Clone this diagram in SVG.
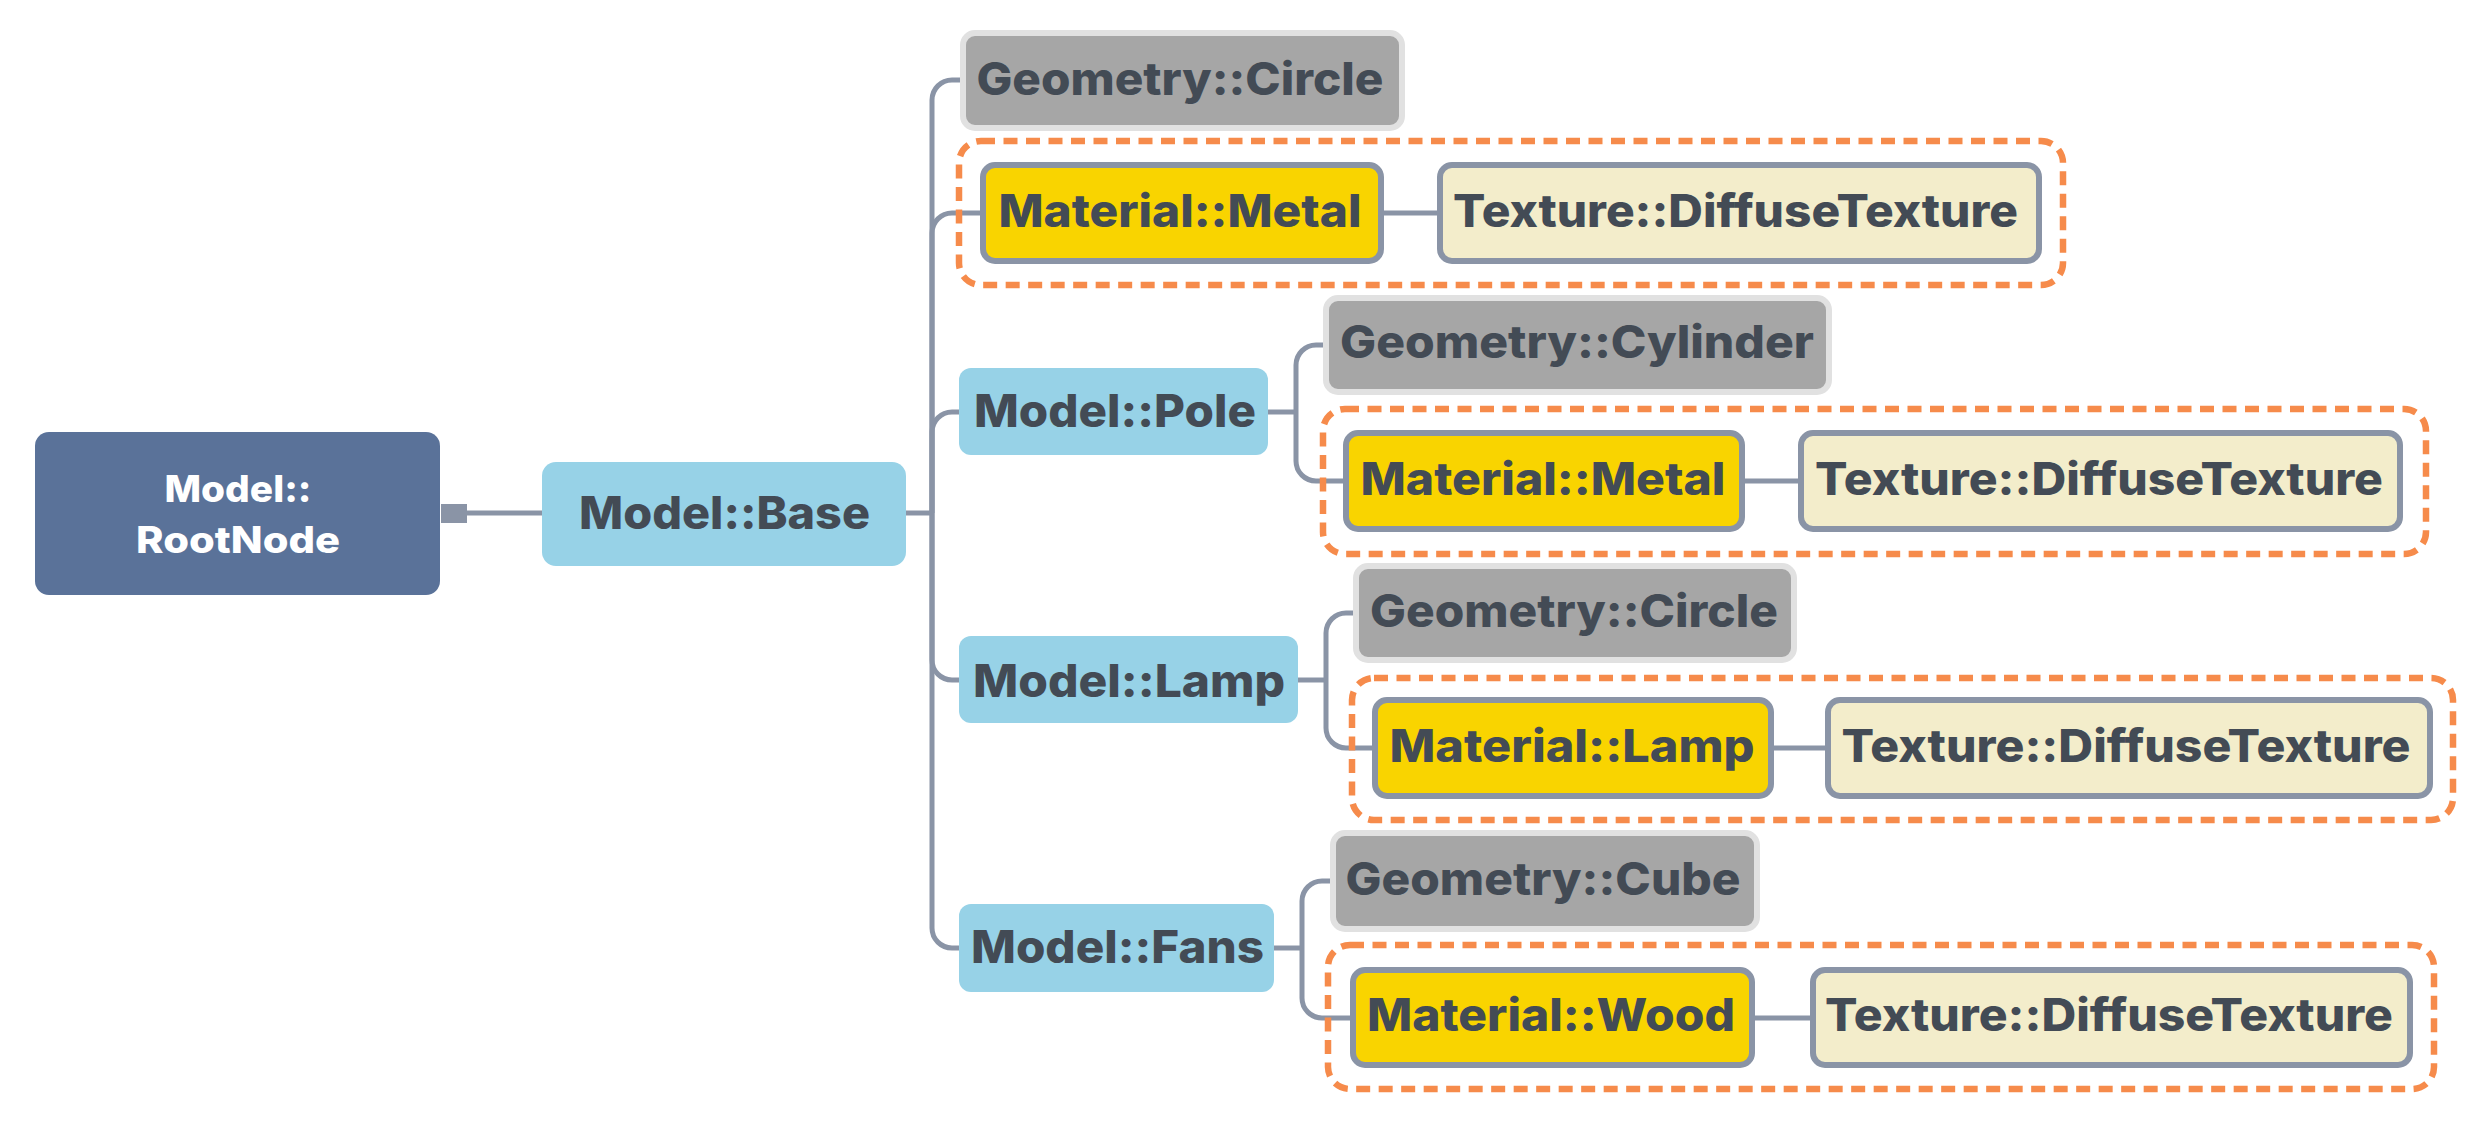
<svg xmlns="http://www.w3.org/2000/svg" width="2489" height="1125" viewBox="0 0 2489 1125">
  <style>
    .lbl { font-family: Inter, "Open Sans", "Liberation Sans", sans-serif; font-weight: 800; font-size: 45px; fill: #434B55; text-anchor: middle; }
    .root-lbl { font-family: Inter, "Open Sans", "Liberation Sans", sans-serif; font-weight: 800; font-size: 37px; fill: #FFFFFF; text-anchor: middle; }
    .root { fill: #5A7299; }
    .model { fill: #97D2E7; }
    .geom { fill: #A6A6A6; stroke: #E1E1E1; stroke-width: 6; }
    .mat { fill: #F9D400; stroke: #8A94A6; stroke-width: 6; }
    .tex { fill: #F3EDCB; stroke: #8A94A6; stroke-width: 6; }
    .grp { fill: none; stroke: #F68B4B; stroke-width: 6.5; stroke-dasharray: 14 8.5; }
    .link { fill: none; stroke: #8A94A6; stroke-width: 5; }
  </style>

  <!-- connectors -->
  <g id="connectors">
    <rect x="441" y="504" width="26" height="19" fill="#8A94A6"/>
    <path class="link" d="M467,513 H542"/>
    <path class="link" d="M906,513 H932"/>
    <!-- Model::Base children -->
    <path class="link" d="M932,513 V100 A20,20 0 0 1 952,80 H963"/>
    <path class="link" d="M932,513 V233 A20,20 0 0 1 952,213 H983"/>
    <path class="link" d="M932,513 V432 A20,20 0 0 1 952,412 H959"/>
    <path class="link" d="M932,513 V660 A20,20 0 0 0 952,680 H959"/>
    <path class="link" d="M932,513 V928 A20,20 0 0 0 952,948 H959"/>
    <!-- Metal -> texture (top) -->
    <path class="link" d="M1384,213 H1440"/>
    <!-- Model::Pole children -->
    <path class="link" d="M1268,412 H1296"/>
    <path class="link" d="M1296,412 V365 A20,20 0 0 1 1316,345 H1326"/>
    <path class="link" d="M1296,412 V461 A20,20 0 0 0 1316,481 H1346"/>
    <path class="link" d="M1745,481 H1801"/>
    <!-- Model::Lamp children -->
    <path class="link" d="M1298,680 H1326"/>
    <path class="link" d="M1326,680 V633 A20,20 0 0 1 1346,613 H1356"/>
    <path class="link" d="M1326,680 V728 A20,20 0 0 0 1346,748 H1375"/>
    <path class="link" d="M1774,748 H1828"/>
    <!-- Model::Fans children -->
    <path class="link" d="M1274,948 H1302"/>
    <path class="link" d="M1302,948 V901 A20,20 0 0 1 1322,881 H1333"/>
    <path class="link" d="M1302,948 V998 A20,20 0 0 0 1322,1018 H1353"/>
    <path class="link" d="M1755,1018 H1813"/>
  </g>

  <!-- dashed groupings around material + texture pairs -->
  <g id="groups">
    <rect class="grp" x="959" y="141" width="1104" height="144" rx="22"/>
    <rect class="grp" x="1323" y="409" width="1103" height="145" rx="22"/>
    <rect class="grp" x="1352" y="678" width="1101" height="142" rx="22"/>
    <rect class="grp" x="1328" y="945" width="1106" height="144" rx="22"/>
  </g>

  <g id="root-node">
    <rect class="root" x="35" y="432" width="405" height="163" rx="14"/>
    <text class="root-lbl" x="238" y="502" textLength="147" lengthAdjust="spacingAndGlyphs">Model::</text>
    <text class="root-lbl" x="238" y="553" textLength="204" lengthAdjust="spacingAndGlyphs">RootNode</text>
  </g>

  <g id="model-base">
    <rect class="model" x="542" y="462" width="364" height="104" rx="14"/>
    <text class="lbl" x="724.5" y="529" textLength="291" lengthAdjust="spacingAndGlyphs">Model::Base</text>
  </g>

  <g id="geometry-circle-base">
    <rect class="geom" x="963" y="33" width="439" height="95" rx="12"/>
    <text class="lbl" x="1180" y="95" textLength="407" lengthAdjust="spacingAndGlyphs">Geometry::Circle</text>
  </g>
  <g id="material-metal-base">
    <rect class="mat" x="983" y="165" width="398" height="96" rx="12"/>
    <text class="lbl" x="1180" y="227" textLength="363" lengthAdjust="spacingAndGlyphs">Material::Metal</text>
  </g>
  <g id="texture-base">
    <rect class="tex" x="1440" y="165" width="599" height="96" rx="12"/>
    <text class="lbl" x="1735.5" y="227" textLength="565" lengthAdjust="spacingAndGlyphs">Texture::DiffuseTexture</text>
  </g>

  <g id="model-pole">
    <rect class="model" x="959" y="368" width="309" height="87" rx="12"/>
    <text class="lbl" x="1115" y="427" textLength="282" lengthAdjust="spacingAndGlyphs">Model::Pole</text>
  </g>
  <g id="geometry-cylinder">
    <rect class="geom" x="1326" y="298" width="503" height="94" rx="12"/>
    <text class="lbl" x="1577" y="358" textLength="474" lengthAdjust="spacingAndGlyphs">Geometry::Cylinder</text>
  </g>
  <g id="material-metal-pole">
    <rect class="mat" x="1346" y="433" width="396" height="96" rx="12"/>
    <text class="lbl" x="1543" y="495" textLength="365" lengthAdjust="spacingAndGlyphs">Material::Metal</text>
  </g>
  <g id="texture-pole">
    <rect class="tex" x="1801" y="433" width="599" height="96" rx="12"/>
    <text class="lbl" x="2099" y="495" textLength="568" lengthAdjust="spacingAndGlyphs">Texture::DiffuseTexture</text>
  </g>

  <g id="model-lamp">
    <rect class="model" x="959" y="636" width="339" height="87" rx="12"/>
    <text class="lbl" x="1129" y="697" textLength="312" lengthAdjust="spacingAndGlyphs">Model::Lamp</text>
  </g>
  <g id="geometry-circle-lamp">
    <rect class="geom" x="1356" y="566" width="438" height="94" rx="12"/>
    <text class="lbl" x="1574" y="627" textLength="408" lengthAdjust="spacingAndGlyphs">Geometry::Circle</text>
  </g>
  <g id="material-lamp">
    <rect class="mat" x="1375" y="700" width="396" height="96" rx="12"/>
    <text class="lbl" x="1572" y="762" textLength="365" lengthAdjust="spacingAndGlyphs">Material::Lamp</text>
  </g>
  <g id="texture-lamp">
    <rect class="tex" x="1828" y="700" width="602" height="96" rx="12"/>
    <text class="lbl" x="2126" y="762" textLength="569" lengthAdjust="spacingAndGlyphs">Texture::DiffuseTexture</text>
  </g>

  <g id="model-fans">
    <rect class="model" x="959" y="904" width="315" height="88" rx="12"/>
    <text class="lbl" x="1117.5" y="963" textLength="293" lengthAdjust="spacingAndGlyphs">Model::Fans</text>
  </g>
  <g id="geometry-cube">
    <rect class="geom" x="1333" y="833" width="424" height="96" rx="12"/>
    <text class="lbl" x="1543" y="895" textLength="395" lengthAdjust="spacingAndGlyphs">Geometry::Cube</text>
  </g>
  <g id="material-wood">
    <rect class="mat" x="1353" y="970" width="399" height="95" rx="12"/>
    <text class="lbl" x="1551" y="1031" textLength="368" lengthAdjust="spacingAndGlyphs">Material::Wood</text>
  </g>
  <g id="texture-fans">
    <rect class="tex" x="1813" y="970" width="597" height="95" rx="12"/>
    <text class="lbl" x="2109" y="1031" textLength="568" lengthAdjust="spacingAndGlyphs">Texture::DiffuseTexture</text>
  </g>
</svg>
